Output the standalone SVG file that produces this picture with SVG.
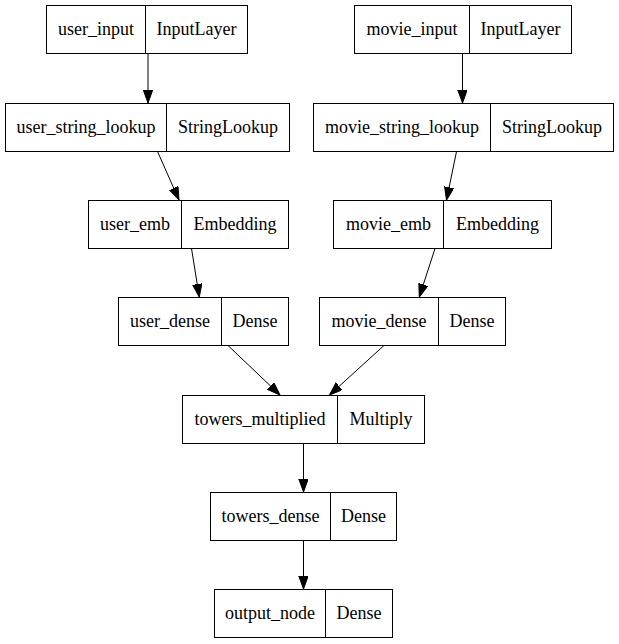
<svg xmlns="http://www.w3.org/2000/svg" width="619" height="644" viewBox="0 0 619 644">
<style>
.box{fill:#ffffff;stroke:#000000;stroke-width:1}
.div{stroke:#000000;stroke-width:1}
text{font-family:"Liberation Serif","DejaVu Serif",serif;font-size:18px;fill:#000000;text-anchor:middle}
.edge{fill:none;stroke:#000000;stroke-width:1;marker-end:url(#arr)}
</style>
<defs>
<marker id="arr" markerUnits="userSpaceOnUse" markerWidth="14" markerHeight="10" refX="13" refY="4.7" orient="auto">
<path d="M0,0 L13,4.7 L0,9.4 z" fill="#000000" stroke="#000000" stroke-width="1"/>
</marker>
</defs>
<rect width="619" height="644" fill="#ffffff"/>
<g id="connectors">
<path class="edge" d="M148,53.5 L148,103"/>
<path class="edge" d="M462.5,53.5 L462.5,103"/>
<path class="edge" d="M157.5,151.5 L179,200"/>
<path class="edge" d="M456.5,151.5 L446.5,200"/>
<path class="edge" d="M191.5,248.5 L199.3,297"/>
<path class="edge" d="M435,248.5 L419.3,297"/>
<path class="edge" d="M228,345.5 L280,395"/>
<path class="edge" d="M384,345.5 L329.5,395"/>
<path class="edge" d="M303.5,443.5 L303.5,492"/>
<path class="edge" d="M303.5,540.5 L303.5,589"/>
</g>
<g id="user_input">
<rect class="box" x="46.5" y="5.5" width="201" height="48"/>
<line class="div" x1="145.5" y1="5.5" x2="145.5" y2="53.5"/>
<text x="96" y="35">user_input</text>
<text x="196.5" y="35">InputLayer</text>
</g>
<g id="movie_input">
<rect class="box" x="354.5" y="5.5" width="217" height="48"/>
<line class="div" x1="469.5" y1="5.5" x2="469.5" y2="53.5"/>
<text x="412" y="35">movie_input</text>
<text x="520.5" y="35">InputLayer</text>
</g>
<g id="user_string_lookup">
<rect class="box" x="5.5" y="103.5" width="284" height="48"/>
<line class="div" x1="166.5" y1="103.5" x2="166.5" y2="151.5"/>
<text x="86" y="133">user_string_lookup</text>
<text x="228" y="133">StringLookup</text>
</g>
<g id="movie_string_lookup">
<rect class="box" x="313.5" y="103.5" width="300" height="48"/>
<line class="div" x1="490.5" y1="103.5" x2="490.5" y2="151.5"/>
<text x="402" y="133">movie_string_lookup</text>
<text x="552" y="133">StringLookup</text>
</g>
<g id="user_emb">
<rect class="box" x="88.5" y="200.5" width="200" height="48"/>
<line class="div" x1="181.5" y1="200.5" x2="181.5" y2="248.5"/>
<text x="135" y="230">user_emb</text>
<text x="235" y="230">Embedding</text>
</g>
<g id="movie_emb">
<rect class="box" x="333.5" y="200.5" width="218" height="48"/>
<line class="div" x1="443.5" y1="200.5" x2="443.5" y2="248.5"/>
<text x="388.5" y="230">movie_emb</text>
<text x="497.5" y="230">Embedding</text>
</g>
<g id="user_dense">
<rect class="box" x="118.5" y="297.5" width="170" height="48"/>
<line class="div" x1="221.5" y1="297.5" x2="221.5" y2="345.5"/>
<text x="170" y="327">user_dense</text>
<text x="255" y="327">Dense</text>
</g>
<g id="movie_dense">
<rect class="box" x="319.5" y="297.5" width="186" height="48"/>
<line class="div" x1="438.5" y1="297.5" x2="438.5" y2="345.5"/>
<text x="379" y="327">movie_dense</text>
<text x="472" y="327">Dense</text>
</g>
<g id="towers_multiplied">
<rect class="box" x="182.5" y="395.5" width="242" height="48"/>
<line class="div" x1="337.5" y1="395.5" x2="337.5" y2="443.5"/>
<text x="260" y="425">towers_multiplied</text>
<text x="381" y="425">Multiply</text>
</g>
<g id="towers_dense">
<rect class="box" x="210.5" y="492.5" width="186" height="48"/>
<line class="div" x1="330.5" y1="492.5" x2="330.5" y2="540.5"/>
<text x="270.5" y="522">towers_dense</text>
<text x="363.5" y="522">Dense</text>
</g>
<g id="output_node">
<rect class="box" x="214.5" y="589.5" width="178" height="48"/>
<line class="div" x1="325.5" y1="589.5" x2="325.5" y2="637.5"/>
<text x="270" y="619">output_node</text>
<text x="359" y="619">Dense</text>
</g>
</svg>
